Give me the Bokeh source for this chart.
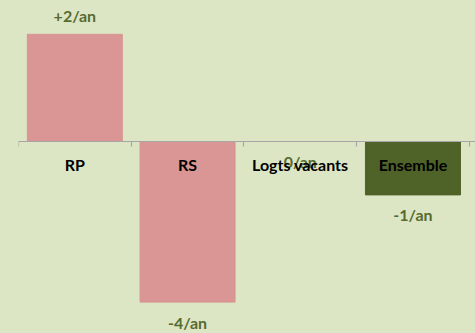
from bokeh.plotting import figure
from bokeh.models import Range1d, LinearAxis, FixedTicker, ColumnDataSource
from bokeh.core.properties import value
from bokeh.embed import file_html
from bokeh.resources import INLINE

categories = ["RP", "RS", "Logts vacants", "Ensemble"]
values = [2.67, -4.0, 0.0, -1.33]
value_labels = ["+2/an", "-4/an", "0/an", "-1/an"]
bar_colors = ["#D99694", "#D99694", "#D99694", "#4F6228"]

BG = "#DCE6C4"
xs = [i + 0.5 for i in range(len(categories))]
label_offsets = [-19 if v > 0 else 20 for v in values]

src = ColumnDataSource(dict(x=xs, top=values, color=bar_colors, cat=categories,
                            lab=value_labels, off=label_offsets, zero=[0] * len(xs)))

p = figure(width=475, height=333, output_backend="svg", toolbar_location=None,
           x_range=Range1d(0, 4.055), y_range=Range1d(-4.782, 3.512),
           x_axis_type=None, y_axis_type=None,
           min_border_left=18, min_border_right=0, min_border_top=0, min_border_bottom=0,
           background_fill_color=BG, border_fill_color=BG, outline_line_color=None)
p.grid.visible = False

p.vbar(x="x", top="top", bottom=0, width=0.843, color="color", source=src)

ticks = list(range(len(categories) + 1))
ax = LinearAxis(fixed_location=0, ticker=FixedTicker(ticks=ticks),
                major_label_overrides={t: "" for t in ticks},
                major_tick_in=0, major_tick_out=5, minor_tick_line_color=None,
                axis_line_color="#A6A6A6",
                major_tick_line_color="#A6A6A6", axis_line_width=1.2, major_tick_line_width=1.2)
p.add_layout(ax, "below")

p.text(x="x", y="top", text="lab", y_offset="off", source=src,
       text_font=value("Lato"), text_font_style="bold", text_font_size="16px",
       text_color="#566B30", text_align="center", text_baseline="middle")

p.text(x="x", y="zero", text="cat", y_offset=23, source=src,
       text_font=value("Lato"), text_font_style="bold", text_font_size="16px",
       text_color="#000000", text_align="center", text_baseline="middle")

html = file_html(p, INLINE)
html = html.replace("</head>", "<style>body{background:%s;}</style></head>" % BG, 1)
open("out.html", "w").write(html)
